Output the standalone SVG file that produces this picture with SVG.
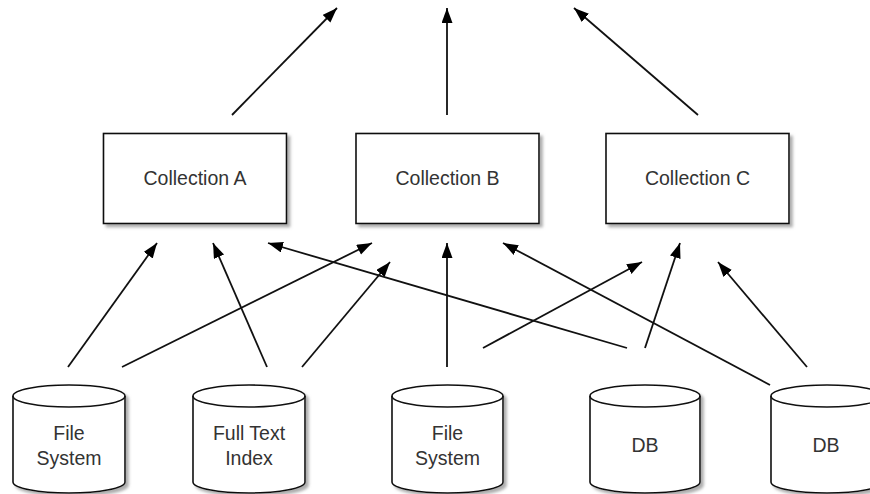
<svg xmlns="http://www.w3.org/2000/svg" width="870" height="494" viewBox="0 0 870 494">
<style>
  .box{fill:#fff;stroke:#111;stroke-width:1.6;filter:url(#sh)}
  .cyl{fill:#fff;stroke:#111;stroke-width:1.6;filter:url(#sh)}
  .cyl-rim{fill:none;stroke:#111;stroke-width:1.6}
  .lbl{font-family:"Liberation Sans",Arial,sans-serif;font-size:19.5px;fill:#333;text-anchor:middle}
  .edge{fill:none;stroke:#111;stroke-width:1.8;marker-end:url(#ah)}
</style>
<defs>
  <filter id="sh" x="-10%" y="-10%" width="130%" height="130%">
    <feDropShadow dx="3" dy="3" stdDeviation="1.5" flood-color="#777" flood-opacity="0.6"/>
  </filter>
  <marker id="ah" markerUnits="userSpaceOnUse" markerWidth="16" markerHeight="12" refX="15" refY="5.5" orient="auto">
    <path d="M0,0 L15,5.5 L0,11 Z" fill="#000"/>
  </marker>
</defs>
<rect width="870" height="494" fill="#fff"/>
<g id="connectors">
  <line class="edge" x1="232" y1="115" x2="337" y2="8"/>
  <line class="edge" x1="447" y1="115" x2="447" y2="8"/>
  <line class="edge" x1="698" y1="115" x2="574" y2="8"/>
  <line class="edge" x1="68" y1="367" x2="157" y2="243"/>
  <line class="edge" x1="122" y1="367" x2="372" y2="243"/>
  <line class="edge" x1="267" y1="367" x2="213" y2="243"/>
  <line class="edge" x1="302" y1="367" x2="390" y2="262"/>
  <line class="edge" x1="627" y1="348" x2="268" y2="243"/>
  <line class="edge" x1="447" y1="367" x2="447" y2="243"/>
  <line class="edge" x1="483" y1="348" x2="642" y2="262"/>
  <line class="edge" x1="645" y1="348" x2="680" y2="243"/>
  <line class="edge" x1="770" y1="385" x2="503" y2="243"/>
  <line class="edge" x1="807" y1="367" x2="718" y2="262"/>
</g>
<g id="collectionA">
  <rect class="box" x="103.5" y="133.5" width="183" height="90"/>
  <text class="lbl" x="195" y="185">Collection A</text>
</g>
<g id="collectionB">
  <rect class="box" x="356" y="133.5" width="183" height="90"/>
  <text class="lbl" x="447.5" y="185">Collection B</text>
</g>
<g id="collectionC">
  <rect class="box" x="606" y="133.5" width="183" height="90"/>
  <text class="lbl" x="697.5" y="185">Collection C</text>
</g>
<g id="fs1">
  <path class="cyl" d="M13,396 A56,11 0 0 1 125,396 V482 A56,11 0 0 1 13,482 Z"/>
  <path class="cyl-rim" d="M13,396 A56,11 0 0 0 125,396"/>
  <text class="lbl" x="69" y="440">File</text>
  <text class="lbl" x="69" y="465">System</text>
</g>
<g id="fti">
  <path class="cyl" d="M193,396 A56,11 0 0 1 305,396 V482 A56,11 0 0 1 193,482 Z"/>
  <path class="cyl-rim" d="M193,396 A56,11 0 0 0 305,396"/>
  <text class="lbl" x="249" y="440">Full Text</text>
  <text class="lbl" x="249" y="465">Index</text>
</g>
<g id="fs2">
  <path class="cyl" d="M392,396 A55.5,11 0 0 1 503,396 V482 A55.5,11 0 0 1 392,482 Z"/>
  <path class="cyl-rim" d="M392,396 A55.5,11 0 0 0 503,396"/>
  <text class="lbl" x="447.5" y="440">File</text>
  <text class="lbl" x="447.5" y="465">System</text>
</g>
<g id="db1">
  <path class="cyl" d="M590,396 A55,11 0 0 1 700,396 V482 A55,11 0 0 1 590,482 Z"/>
  <path class="cyl-rim" d="M590,396 A55,11 0 0 0 700,396"/>
  <text class="lbl" x="645" y="452">DB</text>
</g>
<g id="db2">
  <path class="cyl" d="M771,396 A56,11 0 0 1 883,396 V482 A56,11 0 0 1 771,482 Z"/>
  <path class="cyl-rim" d="M771,396 A56,11 0 0 0 883,396"/>
  <text class="lbl" x="826" y="452">DB</text>
</g>
</svg>
